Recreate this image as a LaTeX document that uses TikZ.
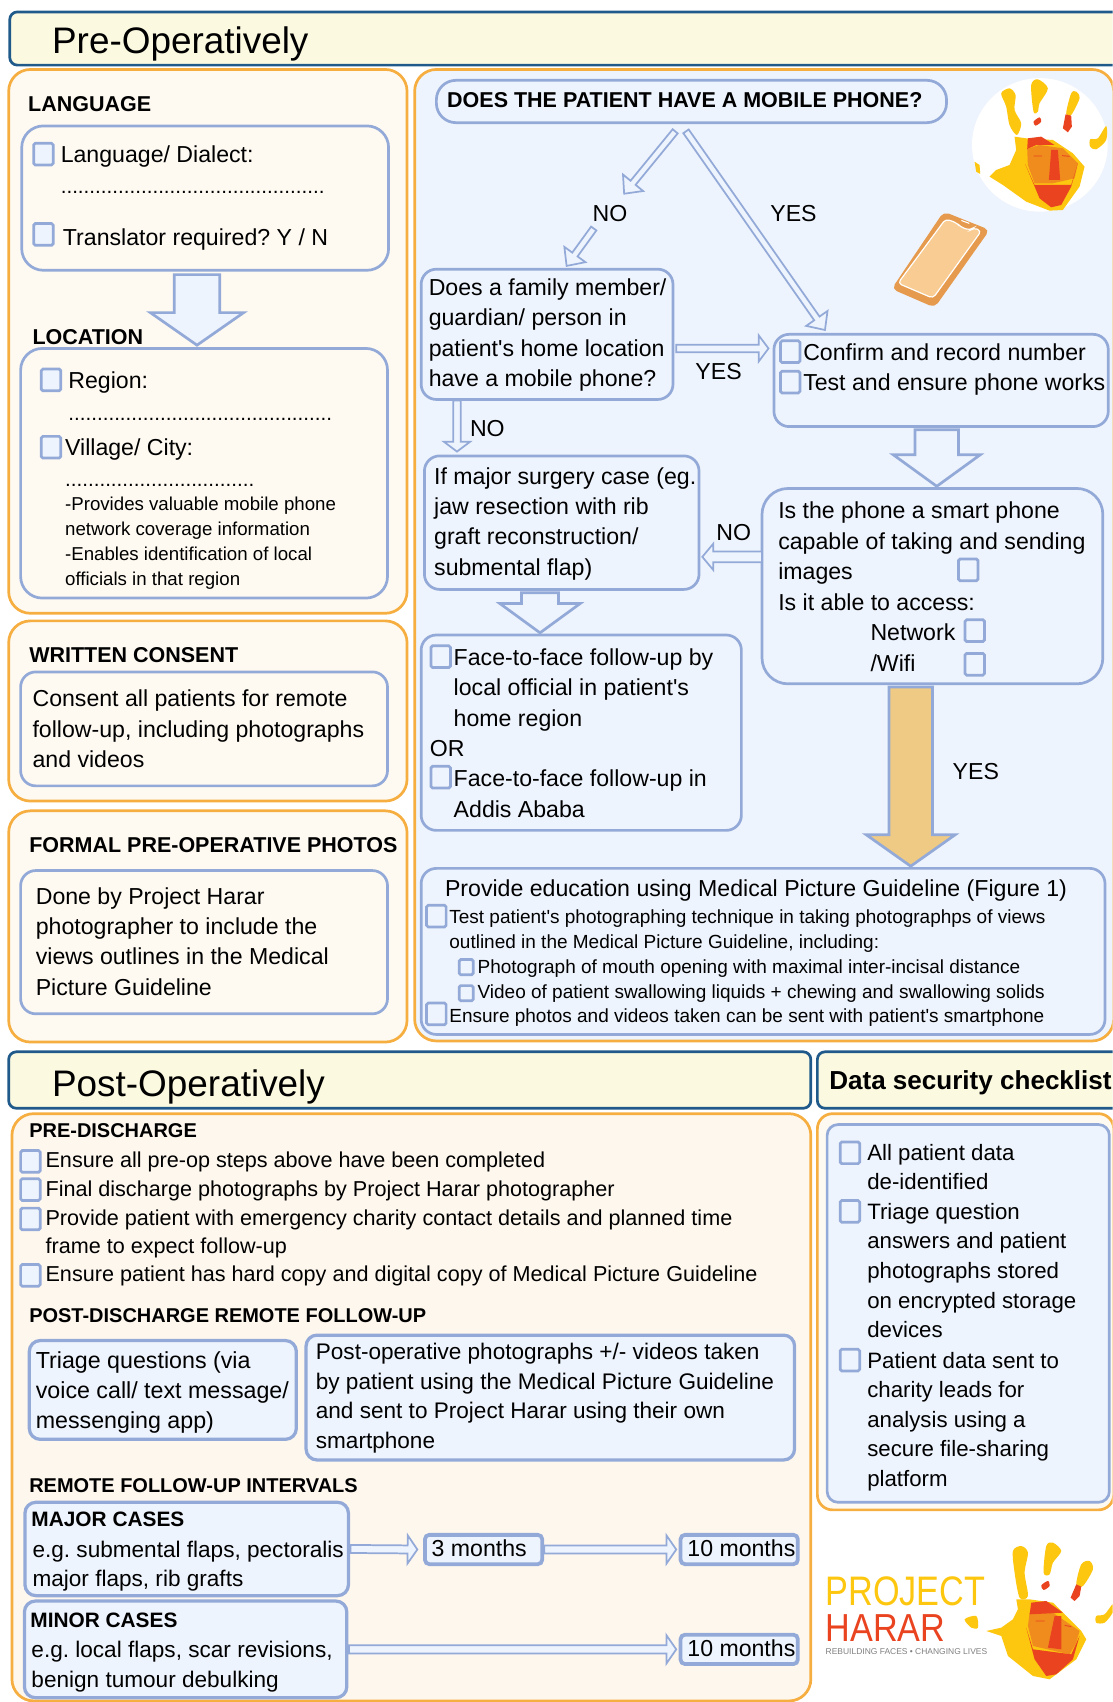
\documentclass[tikz,border=0pt]{standalone}
\usepackage{fontspec}
\setmainfont[Ligatures=TeXOff]{Liberation Sans}
\usetikzlibrary{calc}
\definecolor{navyline}{HTML}{1F5A8A}
\definecolor{headfill}{HTML}{FBF9E0}
\definecolor{orangeline}{HTML}{F5AE3F}
\definecolor{creamfill}{HTML}{FEFAF2}
\definecolor{peachfill}{HTML}{FEF7EE}
\definecolor{blueline}{HTML}{93AAD8}
\definecolor{bluefill}{HTML}{EEF4FD}
\definecolor{goldfill}{HTML}{EECA85}
\definecolor{handyellow}{HTML}{FDC60F}
\definecolor{handred}{HTML}{E9431F}
\definecolor{handorange}{HTML}{F08C1E}
\definecolor{phoneedge}{HTML}{E59A4D}
\definecolor{phonefill}{HTML}{F8CC92}
\tikzset{
  headbar/.style={draw=navyline,line width=2.5,rounded corners=7,fill=headfill,anchor=north west,inner sep=0,outer sep=0},
  panel/.style={draw=orangeline,line width=2.5,rounded corners=20,fill=creamfill,anchor=north west,inner sep=0,outer sep=0},
  flowbox/.style={draw=blueline,line width=2.5,rounded corners=14,anchor=north west,inner sep=0,outer sep=0},
  casebox/.style={flowbox,rounded corners=10,line width=3,fill=bluefill},
  monthbox/.style={flowbox,rounded corners=4,line width=3.5,fill=bluefill,minimum height=27},
  chk/.style={draw=blueline,line width=2.5,rounded corners=1.5,fill=bluefill,anchor=north west,inner sep=0,outer sep=0,minimum width=18,minimum height=20},
  tinychk/.style={chk,minimum width=13,minimum height=14},
  body/.style={anchor=base west,inner sep=0,outer sep=0,align=left,font=\frenchspacing\fontsize{21.3}{28}\selectfont},
  note/.style={body,font=\frenchspacing\fontsize{17.2}{23}\selectfont},
  smallbody/.style={body,font=\frenchspacing\fontsize{17.5}{23}\selectfont},
  postbody/.style={body,font=\frenchspacing\fontsize{19.9}{26}\selectfont},
  casebody/.style={body,font=\frenchspacing\fontsize{20.8}{27.4}\selectfont},
  bold/.style={body,font=\frenchspacing\fontsize{19.8}{26}\selectfont\bfseries},
  postbold/.style={body,font=\frenchspacing\fontsize{18.4}{26}\selectfont\bfseries},
  casebold/.style={body,font=\frenchspacing\fontsize{19.2}{26}\selectfont\bfseries},
  bigtitle/.style={body,font=\fontsize{34}{40}\selectfont},
  dots/.style={body,font=\fontsize{19}{24}\selectfont},
  flowarr/.style={draw=blueline,line width=1.6,fill=bluefill,miter limit=10},
  thickarr/.style={flowarr,line width=2.5},
  goldarr/.style={thickarr,fill=goldfill}
}
% block arrow: style, from, to, half shaft, half head, head length
\newcommand{\blockarr}[6][flowarr]{
  \coordinate (ba) at (#2);
  \coordinate (bb) at (#3);
  \coordinate (bh) at ($(bb)!#6!(ba)$);
  \draw[#1] ($(ba)!#4!90:(bb)$) -- ($(bh)!#4!90:(bb)$) -- ($(bh)!#5!90:(bb)$) -- (bb)
    -- ($(bh)!#5!-90:(bb)$) -- ($(bh)!#4!-90:(bb)$) -- ($(ba)!#4!-90:(bb)$) -- cycle;
}
\begin{document}
\begin{tikzpicture}[x=1pt,y=-1pt]
  \useasboundingbox (0,0) rectangle (1025,1568);
  \clip (0,0) rectangle (1025,1568);

  % pre-operative header and panels
  \node[headbar,minimum width=1040,minimum height=49] (prehead) at (9,11) {};
  \node[bigtitle] (pretitle) at (48,49) {Pre-Operatively};
  \node[panel,minimum width=367,minimum height=501] (panelone) at (8,64) {};
  \node[panel,minimum width=367,minimum height=166] (paneltwo) at (8,572) {};
  \node[panel,minimum width=367,minimum height=213] (panelthree) at (8,747) {};
  \node[panel,fill=bluefill,minimum width=644,minimum height=895] (panelflow) at (382,64) {};

  % language and location
  \node[bold] (langhead) at (26,103) {LANGUAGE};
  \node[flowbox,rounded corners=20,minimum width=338,minimum height=133] (lang) at (20,116) {};
  \node[body] (langa) at (56,150) {Language/ Dialect:};
  \node[dots] (langb) at (56,178) {..............................................};
  \node[body] (langc) at (58,226) {Translator required? Y / N};
  \node[bold] (lochead) at (30,317) {LOCATION};
  \node[flowbox,rounded corners=20,minimum width=338,minimum height=230] (loc) at (19,321) {};
  \node[body] (loca) at (63,358) {Region:};
  \node[dots] (locb) at (63,387) {..............................................};
  \node[body] (locc) at (60,420) {Village/ City:};
  \node[dots] (locd) at (60,448) {.................................};
  \node[note] (loce) at (60,539) {-Provides valuable mobile phone\\network coverage information\\-Enables identification of local\\officials in that region};
  \blockarr[thickarr]{$(lang.south)+(-7.5,4)$}{$(loc.north)+(-6.5,-3)$}{21pt}{43pt}{30pt}

  % consent and photos
  \node[bold] (conhead) at (27,610) {WRITTEN CONSENT};
  \node[flowbox,minimum width=338,minimum height=105] (consent) at (19,619) {};
  \node[body] (contxt) at (30,707) {Consent all patients for remote\\follow-up, including photographs\\and videos};
  \node[bold] (phohead) at (27,785) {FORMAL PRE-OPERATIVE PHOTOS};
  \node[flowbox,minimum width=338,minimum height=132] (photos) at (19,802) {};
  \node[body] (photxt) at (33,917) {Done by Project Harar\\photographer to include the\\views outlines in the Medical\\Picture Guideline};

  % mobile phone flow
  \node[flowbox,rounded corners=18,minimum width=470,minimum height=39] (quest) at (402,74) {};
  \node[bold] (questtxt) at (412,99) {DOES THE PATIENT HAVE A MOBILE PHONE?};
  \node[flowbox,minimum width=232,minimum height=120] (family) at (388,248) {};
  \node[body] (famtxt) at (395,356) {Does a family member/\\guardian/ person in\\patient's home location\\have a mobile phone?};
  \node[flowbox,minimum width=308,minimum height=85] (confirm) at (713,308) {};
  \node[body] (confa) at (740,360) {Confirm and record number\\Test and ensure phone works};
  \node[flowbox,minimum width=253,minimum height=123] (major) at (391,420) {};
  \node[body] (majtxt) at (400,530) {If major surgery case (eg.\\jaw resection with rib\\graft reconstruction/\\submental flap)};
  \node[flowbox,rounded corners=24,minimum width=314,minimum height=180] (smart) at (702,450) {};
  \node[body] (smarta) at (717,562) {Is the phone a smart phone\\capable of taking and sending\\images\\Is it able to access:};
  \node[body] (smartb) at (802,590) {Network};
  \node[body] (smartc) at (802,619) {/Wifi};
  \node[flowbox,minimum width=295,minimum height=180] (face) at (388,585) {};
  \node[body] (facea) at (418,669) {Face-to-face follow-up by\\local official in patient's\\home region};
  \node[body] (faceb) at (396,697) {OR};
  \node[body] (facec) at (418,753) {Face-to-face follow-up in\\Addis Ababa};
  \node[flowbox,minimum width=630,minimum height=153] (edu) at (388,800) {};
  \node[body] (edua) at (410,826) {Provide education using Medical Picture Guideline (Figure 1)};
  \node[smallbody] (edub) at (414,851) {Test patient's photographing technique in taking photographps of views};
  \node[smallbody] (educ) at (414,874) {outlined in the Medical Picture Guideline, including:};
  \node[smallbody] (edud) at (440,897) {Photograph of mouth opening with maximal inter-incisal distance};
  \node[smallbody] (edue) at (440,920) {Video of patient swallowing liquids + chewing and swallowing solids};
  \node[smallbody] (eduf) at (414,942) {Ensure photos and videos taken can be sent with patient's smartphone};

  % flow labels
  \node[body,anchor=center] (noa) at (562,197) {NO};
  \node[body,anchor=center] (yesa) at (731,197) {YES};
  \node[body,anchor=center] (yesb) at (662,342) {YES};
  \node[body,anchor=center] (nob) at (449,395) {NO};
  \node[body,anchor=center] (noc) at (676,491) {NO};
  \node[body,anchor=center] (yesc) at (899,711) {YES};

  % flow arrows
  \blockarr{$(quest.south)+(-15,8)$}{$(noa.north)+(13,-11)$}{3pt}{12pt}{13pt}
  \blockarr{$(noa.south)+(-15,6)$}{$(family.north)+(18,-3)$}{3pt}{12pt}{13pt}
  \blockarr{$(quest.south)+(-5,8)$}{$(confirm.north)+(-107,-4)$}{3pt}{12pt}{13pt}
  \blockarr{$(family.east)+(3,13)$}{$(confirm.west)+(-5,-29.5)$}{3.5pt}{12pt}{9pt}
  \blockarr{$(family.south)+(-83,1)$}{$(major.north)+(-96.5,-4)$}{3.5pt}{12pt}{9pt}
  \blockarr{$(smart.west)+(0,-27)$}{$(major.east)+(3,31.5)$}{5pt}{12pt}{10pt}
  \blockarr[thickarr]{$(confirm.south)+(-4,3)$}{$(smart.north)+(4,-2)$}{20pt}{40pt}{29pt}
  \blockarr[thickarr]{$(major.south)+(-20,3)$}{$(face.north)+(-38,-2)$}{17pt}{37pt}{27pt}
  \blockarr[goldarr]{$(smart.south)+(-20,3)$}{$(edu.north)+(136,-2)$}{20pt}{41pt}{29pt}

  % post-operative header and panels
  \node[headbar,minimum width=739,minimum height=52] (posthead) at (8,969) {};
  \node[bigtitle] (posttitle) at (48,1010) {Post-Operatively};
  \node[headbar,minimum width=290,minimum height=52] (datahead) at (753,969) {};
  \node[bold,font=\fontsize{24}{28}\selectfont\bfseries] (datatitle) at (764,1004) {Data security checklist};
  \node[panel,fill=peachfill,minimum width=736,minimum height=541] (panelpost) at (11,1026) {};
  \node[panel,rounded corners=14,minimum width=273,minimum height=365] (paneldata) at (753,1026) {};
  \node[flowbox,rounded corners=10,fill=bluefill,minimum width=260,minimum height=348] (datain) at (762,1036) {};
  \node[body,font=\fontsize{20.5}{27.3}\selectfont] (dataa) at (799,1096) {All patient data\\de-identified};
  \node[body,font=\fontsize{20.5}{27.3}\selectfont] (datab) at (799,1232.5) {Triage question\\answers and patient\\photographs stored\\on encrypted storage\\devices};
  \node[body,font=\fontsize{20.5}{27.3}\selectfont] (datac) at (799,1369.5) {Patient data sent to\\charity leads for\\analysis using a\\secure file-sharing\\platform};

  % discharge lists
  \node[postbold] (dishead) at (27,1048) {PRE-DISCHARGE};
  \node[postbody] (disa) at (42,1076) {Ensure all pre-op steps above have been completed};
  \node[postbody] (disb) at (42,1102) {Final discharge photographs by Project Harar photographer};
  \node[postbody] (disc) at (42,1155) {Provide patient with emergency charity contact details and planned time\\frame to expect follow-up};
  \node[postbody] (disd) at (42,1181) {Ensure patient has hard copy and digital copy of Medical Picture Guideline};
  \node[postbold] (remhead) at (27,1218) {POST-DISCHARGE REMOTE FOLLOW-UP};
  \node[casebox,minimum width=246,minimum height=91] (triage) at (27,1235) {};
  \node[casebody,font=\frenchspacing\fontsize{21.4}{27.5}\selectfont] (tritxt) at (33,1316) {Triage questions (via\\voice call/ text message/\\messenging app)};
  \node[casebox,minimum width=450,minimum height=115] (postph) at (282,1230) {};
  \node[casebody] (postxt) at (291,1334.5) {Post-operative photographs +/- videos taken\\by patient using the Medical Picture Guideline\\and sent to Project Harar using their own\\smartphone};
  \node[postbold] (inthead) at (27,1375) {REMOTE FOLLOW-UP INTERVALS};

  % follow-up intervals
  \node[casebox,minimum width=298,minimum height=86] (majcase) at (23,1384) {};
  \node[casebold] (mjhead) at (29,1406) {MAJOR CASES};
  \node[casebody] (mjtxt) at (30,1462) {e.g. submental flaps, pectoralis\\major flaps, rib grafts};
  \node[casebox,minimum width=297,minimum height=89] (mincase) at (22.5,1475) {};
  \node[casebold] (mnhead) at (28,1499.5) {MINOR CASES};
  \node[casebody] (mntxt) at (29,1554.5) {e.g. local flaps, scar revisions,\\benign tumour debulking};
  \node[monthbox,minimum width=108] (mtha) at (391.5,1414) {};
  \node[body,anchor=center] (mthatxt) at ($(mtha.center)+(-4,-1)$) {3 months};
  \node[monthbox,minimum width=108] (mthb) at (627,1414) {};
  \node[body,anchor=center] (mthbtxt) at ($(mthb.center)+(2,-1)$) {10 months};
  \node[monthbox,minimum width=108] (mthc) at (627,1506) {};
  \node[body,anchor=center] (mthctxt) at ($(mthc.center)+(2,-1)$) {10 months};
  \blockarr{$(majcase.east)+(2,0)$}{$(mtha.west)+(-7,0)$}{3.7pt}{13pt}{9pt}
  \blockarr{$(mtha.east)+(2,0)$}{$(mthb.west)+(-4,0)$}{3.7pt}{13pt}{9pt}
  \blockarr{$(mincase.east)+(2,0)$}{$(mthc.west)+(-4,0)$}{3.7pt}{13pt}{9pt}

  % check boxes
  \foreach \x/\y/\n in {31/132/a,31/206/b,38/340/c,38/402/d,719/314/e,719/342/f,883/515/g,889/571/h,889/602/i,
      397/595/j,397/706/k,393/834/l,393/924/m,774/1052/n,774/1106/o,774/1243/p,19/1060/q,19/1086/r,19/1113/s,19/1165/t}
    \node[chk] (chk\n) at (\x,\y) {};
  \foreach \y/\n in {884/u,908/v}
    \node[tinychk] (chk\n) at (423,\y) {};

  % phone
  \begin{scope}[shift={(801.2,179.6)},x=0.307pt,y=-0.307pt]
    \fill[phoneedge,rounded corners=5pt] (222,50) -- (360,105) -- (195,338) -- (66,282) -- cycle;
    \filldraw[draw=white,line width=1.1,fill=phonefill,rounded corners=3.5pt] (228,72) -- (262,84) -- (272,96) -- (302,106) -- (312,98) -- (335,108) -- (190,310) -- (85,265) -- cycle;
    \draw[white,line width=1,line cap=round] (276,77) -- (298,85);
  \end{scope}

  % round hand mark
  \fill[white] (958,133.5) ellipse [x radius=62.5,y radius=61.5];
  \begin{scope}[shift={(884,64.5)},x=0.307pt,y=-0.307pt]
    \fill[handyellow] plot[smooth cycle] coordinates {(125,70) (150,55) (168,75) (165,120) (185,160) (172,195) (150,165) (140,110)};
    \fill[handyellow] plot[smooth cycle] coordinates {(215,45) (235,28) (265,55) (240,100) (235,125) (222,125)};
    \fill[handred] plot[smooth cycle] coordinates {(222,155) (240,142) (245,155) (228,167)};
    \fill[handyellow] plot[smooth cycle] coordinates {(320,130) (335,70) (350,65) (360,85) (335,135)};
    \fill[handred] (318,133) -- (335,137) -- (337,170) -- (325,187) -- (310,175) -- cycle;
    \fill[handyellow] plot[smooth cycle] coordinates {(440,168) (440,210) (410,238) (392,230) (392,208) (415,205)};
    \fill[handyellow] (45,275) -- (60,285) -- (62,312) -- (50,305) -- cycle;
    \fill[handyellow] (165,200) -- (200,205) -- (280,210) -- (340,250) -- (375,290) -- (360,350) -- (310,420) -- (270,422) -- (200,395) -- (130,345) -- (90,320) -- (110,300) -- (150,285) -- (170,240) -- cycle;
    \fill[handorange] (203,237) -- (240,225) -- (310,235) -- (355,280) -- (345,325) -- (280,340) -- (225,340) -- (205,285) -- cycle;
    \fill[handred] (203,237) -- (205,205) -- (245,200) -- (285,225) -- (230,225) -- cycle;
    \fill[handred] (275,240) -- (295,240) -- (302,330) -- (268,330) -- cycle;
    \fill[handred] (197,282) -- (225,345) -- (335,345) -- (355,280) -- (335,350) -- (305,405) -- (275,412) -- (240,385) -- cycle;
    \draw[handred,line width=.8] (222,258) -- (248,258) (308,257) -- (330,259);
  \end{scope}

  % project logo
  \node[anchor=base west,inner sep=0,xscale=.83,text=handyellow,font=\fontsize{38}{40}\selectfont] (logoa) at (760.5,1479) {PROJECT};
  \node[anchor=base west,inner sep=0,xscale=.875,text=handred,font=\fontsize{36}{40}\selectfont] (logob) at (760.5,1512) {HARAR};
  \node[anchor=base west,inner sep=0,text=gray,font=\fontsize{7.8}{8}\selectfont] (logoc) at (760.5,1524) {REBUILDING FACES • CHANGING LIVES};
  \begin{scope}[shift={(644.6,1381.3)},x=0.307pt,y=-0.307pt]
    \fill[handyellow] plot[smooth cycle] coordinates {(940,155) (965,140) (985,160) (975,220) (985,290) (960,295) (945,220)};
    \fill[handyellow] plot[smooth cycle] coordinates {(1040,140) (1060,130) (1085,155) (1060,190) (1050,225) (1032,220)};
    \fill[handred] plot[smooth cycle] coordinates {(1025,258) (1045,245) (1050,260) (1032,272)};
    \fill[handyellow] plot[smooth cycle] coordinates {(1145,195) (1170,185) (1180,210) (1150,260) (1130,255)};
    \fill[handred] (1130,255) -- (1145,262) -- (1140,290) -- (1125,305) -- (1113,295) -- cycle;
    \fill[handyellow] plot[smooth cycle] coordinates {(1239,315) (1215,345) (1190,350) (1190,370) (1215,370) (1239,340)};
    \fill[handyellow] plot[smooth cycle] coordinates {(795,360) (830,350) (835,385) (815,385)};
    \fill[handyellow] (950,300) -- (990,300) -- (1060,310) -- (1145,395) -- (1160,420) -- (1130,480) -- (1050,540) -- (1000,530) -- (925,470) -- (905,410) -- (860,395) -- (905,385) -- (940,360) -- (955,330) -- cycle;
    \fill[handorange] (990,340) -- (1060,340) -- (1140,395) -- (1130,430) -- (1110,465) -- (1000,440) -- (985,380) -- cycle;
    \fill[handred] (995,310) -- (1040,305) -- (1090,340) -- (990,345) -- cycle;
    \fill[handred] (1065,350) -- (1085,350) -- (1085,450) -- (1045,445) -- cycle;
    \fill[handred] (980,385) -- (1000,450) -- (1115,465) -- (1140,410) -- (1120,480) -- (1070,525) -- (1040,530) -- (1005,480) -- cycle;
    \draw[handred,line width=.8] (1008,365) -- (1035,365) (1095,378) -- (1115,382);
  \end{scope}
\end{tikzpicture}
\end{document}
